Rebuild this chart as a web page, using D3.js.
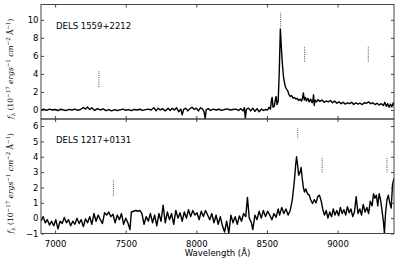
<!DOCTYPE html>
<html>
<head>
<meta charset="utf-8">
<script src="https://cdn.jsdelivr.net/npm/d3@7"></script>
<style>
  body { margin: 0; background: #fff; }
  svg { display: block; }
  text { font-family: "DejaVu Sans", sans-serif; }
</style>
</head>
<body>
<script>
// Spectrum of DELS 1559+2212 : [wavelength, flux]
const specTop = [
  [6900,0.0],[6920,0.08],[6940,-0.05],[6960,0.1],[6980,0.0],[7000,0.05],[7020,-0.06],[7040,0.08],
  [7060,0.0],[7080,-0.05],[7100,0.06],[7120,0.0],[7140,0.1],[7160,-0.04],[7180,0.05],[7200,0.28],
  [7215,0.1],[7230,0.32],[7245,0.05],[7260,0.25],[7280,-0.05],[7300,0.15],[7320,0.0],[7340,0.12],
  [7360,-0.08],[7380,0.05],[7400,-0.1],[7420,0.04],[7440,-0.06],[7460,0.02],[7480,0.1],[7500,-0.04],
  [7520,0.05],[7540,-0.08],[7560,0.06],[7580,0.0],[7600,0.08],[7620,-0.05],[7640,0.04],[7660,0.1],
  [7680,0.0],[7700,0.25],[7715,-0.1],[7730,0.2],[7745,0.0],[7760,0.15],[7780,-0.1],[7800,0.2],
  [7815,-0.05],[7830,0.18],[7845,0.0],[7860,0.25],[7875,-0.2],[7890,0.1],[7900,-0.55],[7910,0.05],
  [7925,0.2],[7940,-0.1],[7955,0.15],[7970,0.3],[7985,0.05],[8000,0.2],[8015,-0.1],[8030,0.25],
  [8045,0.1],[8055,-0.2],[8063,-1.0],[8070,0.05],[8085,0.15],[8100,-0.05],[8120,0.1],[8140,0.0],
  [8160,0.08],[8180,-0.05],[8200,0.06],[8220,0.12],[8240,0.0],[8260,0.05],[8280,0.1],[8300,-0.05],
  [8315,0.15],[8330,-0.1],[8340,0.25],[8347,-0.9],[8355,0.1],[8370,0.2],[8385,-0.1],[8400,0.2],
  [8415,-0.15],[8430,0.15],[8445,-0.2],[8460,0.1],[8475,-0.05],[8490,0.05],[8505,0.0],[8515,0.3],
  [8525,0.1],[8532,1.1],[8537,1.4],[8543,0.3],[8552,0.4],[8560,1.2],[8565,1.5],[8572,0.6],
  [8580,1.0],[8588,4.5],[8595,9.0],[8602,7.0],[8610,5.0],[8618,3.6],[8626,2.9],[8632,2.5],
  [8640,2.3],[8648,2.1],[8656,1.7],[8665,1.5],[8675,1.6],[8685,1.3],[8695,1.4],[8705,1.2],
  [8715,1.3],[8725,1.05],[8735,1.2],[8745,1.0],[8752,1.3],[8758,1.9],[8765,1.1],[8772,1.4],
  [8780,1.0],[8790,1.3],[8800,0.9],[8810,1.2],[8820,0.8],[8826,1.1],[8830,1.7],[8835,0.5],
  [8842,1.1],[8852,0.9],[8862,1.15],[8875,0.95],[8890,1.1],[8905,0.85],[8920,1.0],[8935,0.9],
  [8950,1.05],[8965,0.8],[8980,1.0],[8995,0.75],[9010,0.9],[9025,0.7],[9040,0.85],[9055,0.65],
  [9070,0.8],[9085,0.7],[9100,0.85],[9115,0.6],[9130,0.8],[9145,0.65],[9160,0.75],[9175,0.6],
  [9190,0.8],[9205,0.75],[9220,0.9],[9235,0.7],[9250,0.8],[9265,0.6],[9280,0.75],[9295,0.55],
  [9310,0.7],[9325,0.5],[9335,0.85],[9345,0.4],[9355,0.7],[9365,0.3],[9375,0.65],[9385,0.35],
  [9395,0.8],[9400,0.5]
];

// Spectrum of DELS 1217+0131 : [wavelength, flux]
const specBottom = [
  [6900,-0.2],[6915,0.1],[6930,-0.3],[6945,-0.1],[6960,-0.45],[6975,-0.2],[6990,-0.5],[7005,-0.1],
  [7020,-0.7],[7035,-0.2],[7050,-0.35],[7065,0.05],[7080,-0.3],[7095,-0.1],[7110,-0.5],[7125,-0.2],
  [7140,-0.4],[7155,0.0],[7170,-0.35],[7185,-0.1],[7200,-0.55],[7215,-0.05],[7230,-0.3],[7245,0.1],
  [7260,-0.4],[7275,0.3],[7290,-0.2],[7305,0.2],[7320,-0.1],[7335,-0.35],[7350,0.35],[7365,0.2],
  [7380,0.4],[7395,0.1],[7410,0.25],[7425,-0.3],[7440,0.2],[7455,-0.1],[7470,0.3],[7485,-0.4],
  [7500,0.0],[7515,-0.3],[7530,-0.75],[7540,0.4],[7555,0.45],[7570,0.5],[7585,0.45],[7600,0.5],
  [7615,0.3],[7630,-0.4],[7645,0.1],[7660,-0.2],[7675,0.3],[7690,-0.3],[7705,0.2],[7720,-0.5],
  [7735,0.3],[7750,-0.2],[7765,0.85],[7780,-0.3],[7795,0.4],[7810,-0.1],[7825,0.3],[7840,-0.4],
  [7855,0.5],[7870,0.0],[7885,0.35],[7900,-0.2],[7915,0.4],[7930,0.0],[7945,0.55],[7960,0.1],
  [7975,0.5],[7990,0.2],[8005,0.35],[8020,-0.1],[8035,0.45],[8050,0.1],[8065,0.5],[8080,0.2],
  [8095,-0.1],[8110,0.3],[8125,-0.3],[8140,0.2],[8155,-0.4],[8170,0.1],[8185,-0.5],[8200,-0.9],
  [8215,-0.2],[8230,-1.0],[8245,0.2],[8260,-0.3],[8275,0.1],[8290,-0.4],[8305,0.15],[8320,-0.2],
  [8335,0.3],[8350,0.1],[8362,1.35],[8375,0.0],[8390,-0.3],[8400,-0.75],[8415,0.2],[8430,-0.1],
  [8445,0.45],[8460,0.0],[8475,0.5],[8490,0.1],[8505,0.45],[8520,0.2],[8535,-0.1],[8550,0.3],
  [8565,0.05],[8580,0.6],[8590,0.2],[8605,0.7],[8620,0.3],[8635,0.6],[8650,0.2],[8665,0.5],
  [8680,1.2],[8695,2.5],[8705,3.6],[8710,4.0],[8718,3.4],[8725,2.8],[8735,3.0],[8742,3.3],
  [8750,2.6],[8758,2.0],[8766,1.7],[8775,1.9],[8787,1.6],[8800,1.5],[8810,1.2],[8823,0.95],
  [8835,1.2],[8848,1.0],[8860,1.4],[8872,1.5],[8885,1.1],[8895,0.6],[8908,0.2],[8920,0.5],
  [8932,0.0],[8945,0.4],[8958,0.1],[8970,0.6],[8982,0.2],[8995,0.5],[9008,0.15],[9020,0.7],
  [9033,0.3],[9045,0.55],[9058,0.2],[9070,0.75],[9083,0.35],[9095,0.6],[9108,0.1],[9120,0.4],
  [9132,1.4],[9145,0.3],[9158,0.6],[9170,0.2],[9182,0.9],[9195,0.4],[9208,0.7],[9220,0.3],
  [9232,1.1],[9245,0.8],[9255,1.6],[9265,1.3],[9275,1.5],[9285,0.8],[9295,1.6],[9305,1.2],
  [9315,0.5],[9325,-0.2],[9332,-1.0],[9340,0.3],[9350,1.2],[9360,1.5],[9370,1.0],[9380,0.66],
  [9390,2.2],[9400,2.6]
];

// emission line markers : [wavelength, flux low, flux high]
const linesTop = [[7310,2.55,4.33],[8597,9.26,10.8],[8767,5.37,7.1],[9218,5.37,7.1]];
const linesBottom = [[7413,1.45,2.5],[8718,5.25,5.86],[8891,2.98,4.0],[9350,2.98,4.0]];

const names = ["DELS 1559+2212", "DELS 1217+0131"];
const xTicks = [7000, 7500, 8000, 8500, 9000];
const yTicksTop = [0, 2, 4, 6, 8, 10];
const yTicksBottom = [-1, 0, 1, 2, 3, 4, 5, 6];

const width = 415, height = 260;
const left = 41, right = 394;

const svg = d3.select("body")
  .append("svg")
  .attr("width", width)
  .attr("height", height);

const x = d3.scaleLinear().domain([6900, 9400]).range([left, right]);

function drawPanel(spec, lines, name, yTicks, yDomain, top, bottom, showX) {
  const y = d3.scaleLinear().domain(yDomain).range([bottom, top]);
  const g = svg.append("g");

  // clip so the spectrum stays inside the frame
  const clipId = "clip" + Math.round(top);
  svg.append("clipPath").attr("id", clipId)
    .append("rect")
    .attr("x", left).attr("y", top)
    .attr("width", right - left).attr("height", bottom - top);

  // Spectrum
  g.append("path")
    .datum(spec)
    .attr("clip-path", `url(#${clipId})`)
    .attr("fill", "none")
    .attr("stroke", "#000")
    .attr("stroke-width", 1.4)
    .attr("stroke-linejoin", "round")
    .attr("d", d3.line().x(d => x(d[0])).y(d => y(d[1])));

  // Line markers
  g.selectAll(".marker")
    .data(lines)
    .enter()
    .append("line")
    .attr("x1", d => x(d[0])).attr("x2", d => x(d[0]))
    .attr("y1", d => y(d[1])).attr("y2", d => y(d[2]))
    .attr("stroke", "#333")
    .attr("stroke-width", 0.9)
    .attr("stroke-dasharray", "1,1.2");

  // Axes with inward ticks on all four sides
  const tickFmt = d => d < 0 ? "\u2212" + Math.abs(d) : d;
  const axes = [
    d3.axisBottom(x).tickValues(xTicks).tickSize(-3).tickFormat(showX ? tickFmt : ""),
    d3.axisTop(x).tickValues(xTicks).tickSize(-3).tickFormat(""),
    d3.axisLeft(y).tickValues(yTicks).tickSize(-3).tickFormat(tickFmt),
    d3.axisRight(y).tickValues(yTicks).tickSize(-3).tickFormat("")
  ];
  const pos = [`translate(0,${bottom})`, `translate(0,${top})`, `translate(${left},0)`, `translate(${right},0)`];
  axes.forEach((a, i) => {
    const ag = g.append("g").attr("transform", pos[i]).call(a);
    ag.select(".domain").remove();
    ag.selectAll("line").attr("stroke", "#444");
    ag.selectAll("text")
      .attr("fill", "#000")
      .style("font-size", "8.5px")
      .style("font-family", "DejaVu Sans, sans-serif");
    if (i == 0) ag.selectAll("text").attr("dy", "0.95em").attr("y", 5);
    if (i == 2) ag.selectAll("text").attr("x", -2.5);
  });

  // Frame
  g.append("rect")
    .attr("x", left).attr("y", top)
    .attr("width", right - left).attr("height", bottom - top)
    .attr("fill", "none")
    .attr("stroke", "#444")
    .attr("stroke-width", 1);

  // Object name
  g.append("text")
    .attr("x", left + 15)
    .attr("y", top + 24)
    .style("font-size", "8.5px")
    .attr("fill", "#000")
    .text(name);

  // Y label
  const lab = g.append("text")
    .attr("transform", `translate(13,${(top + bottom) / 2 + 7}) rotate(-90)`)
    .attr("text-anchor", "middle")
    .style("font-family", "DejaVu Serif, serif")
    .style("font-size", "7.5px")
    .attr("fill", "#000");
  lab.append("tspan").style("font-style", "italic").text("f");
  lab.append("tspan").attr("dy", 2).style("font-size", "5.5px").text("\u03bb");
  lab.append("tspan").attr("dy", -2).text(" (10");
  lab.append("tspan").attr("dy", -3).style("font-size", "5.5px").text("\u221217");
  lab.append("tspan").attr("dy", 3).style("font-style", "italic").text(" ergs");
  lab.append("tspan").attr("dy", -3).style("font-size", "5.5px").text("\u22121");
  lab.append("tspan").attr("dy", 3).style("font-style", "italic").text(" cm");
  lab.append("tspan").attr("dy", -3).style("font-size", "5.5px").text("\u22122");
  lab.append("tspan").attr("dy", 3).text(" \u00c5");
  lab.append("tspan").attr("dy", -3).style("font-size", "5.5px").text("\u22121");
  lab.append("tspan").attr("dy", 3).text(")");
}

drawPanel(specTop, linesTop, names[0], yTicksTop, [-1, 11.7], 4.5, 119, false);
drawPanel(specBottom, linesBottom, names[1], yTicksBottom, [-1, 6.46], 119, 233.5, true);

// X label
svg.append("text")
  .attr("x", (left + right) / 2)
  .attr("y", 256)
  .attr("text-anchor", "middle")
  .style("font-size", "8.5px")
  .attr("fill", "#000")
  .text("Wavelength (\u00c5)");
</script>
</body>
</html>
